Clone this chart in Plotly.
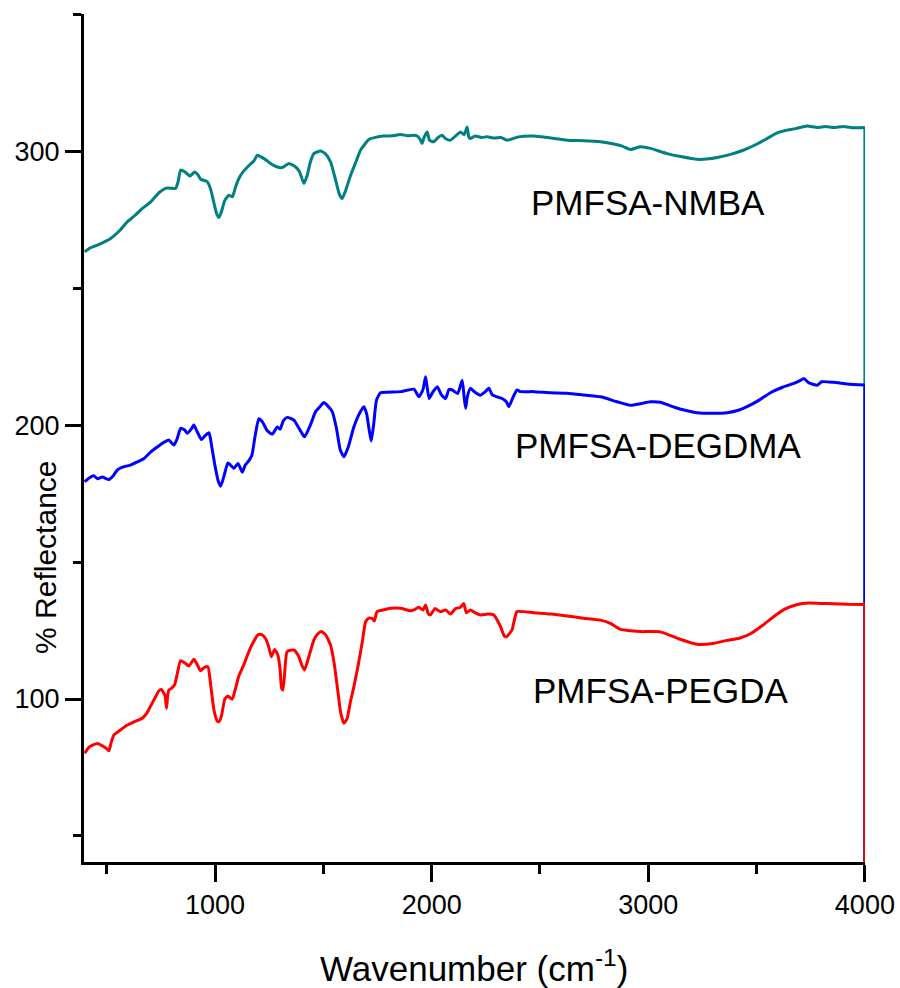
import plotly.graph_objects as go

# ---- data ----
nmba_x = [398, 420, 457, 480, 518, 560, 595, 630, 656, 703, 741, 775, 802, 818, 830, 841, 860, 884, 906, 920,
          933, 964, 980, 995, 1008, 1018, 1030, 1045, 1064, 1080, 1095, 1110, 1130, 1160, 1180, 1195, 1215, 1240,
          1256, 1287, 1310, 1341, 1372, 1390, 1410, 1425, 1440, 1456, 1487, 1510, 1533, 1555, 1575, 1587, 1600,
          1626, 1650, 1672, 1710, 1740, 1779, 1820, 1856, 1890, 1918, 1933, 1945, 1956, 1965, 1979, 1990, 2010,
          2030, 2048, 2065, 2087, 2110, 2133, 2150, 2164, 2172, 2179, 2200, 2230, 2256, 2290, 2320, 2348, 2400,
          2471, 2550, 2625, 2700, 2779, 2841, 2880, 2918, 2964, 3010, 3087, 3150, 3225, 3280, 3318, 3380, 3441,
          3500, 3549, 3590, 3625, 3680, 3733, 3780, 3820, 3856, 3900, 3950, 4000]
nmba_y = [263.2, 264.5, 265.7, 266.5, 268.1, 271, 274.2, 276.5, 278.5, 281.5, 284.8, 286.5, 286.4, 286.4, 289,
          293.1, 292.5, 290.9, 292.4, 291.5, 289.8, 288.8, 286, 281, 277, 275.8, 278, 282, 283.9, 283.3, 287, 290,
          292.5, 295, 296.5, 298.5, 297.8, 296.5, 295.5, 294.2, 294, 295.5, 294.2, 292.5, 288.2, 291, 296, 299.1,
          300, 299, 296.1, 290, 284, 282.7, 285, 291.2, 296, 300.4, 304.2, 305, 305.5, 305.6, 306.1, 305.6, 305.8,
          305.5, 304.5, 302.8, 305, 307, 304, 303.4, 305, 305.8, 304.5, 304, 305.5, 307, 306, 308.8, 305, 304.6,
          305.5, 305, 305.2, 304.8, 305, 304, 305.2, 305.5, 304.8, 304, 303.8, 303.4, 302.6, 301.8, 300.6, 301.6,
          301, 299.1, 298, 297, 297.2, 297.7, 298.8, 300.4, 302.5, 304.6, 306.5, 307.4, 308.2, 309.2, 308.6, 309,
          308.6, 309, 308.5, 308.6]

degdma_x = [398, 420, 440, 457, 480, 510, 530, 549, 580, 610, 640, 672, 703, 733, 760, 787, 810, 825, 841, 860,
            871, 890, 902, 915, 937, 955, 972, 985, 1000, 1015, 1026, 1040, 1059, 1070, 1087, 1106, 1126, 1140,
            1156, 1170, 1185, 1202, 1220, 1240, 1264, 1280, 1287, 1300, 1315, 1333, 1364, 1390, 1413, 1440, 1464,
            1485, 1502, 1520, 1541, 1560, 1578, 1595, 1615, 1641, 1665, 1687, 1700, 1712, 1721, 1732, 1745, 1764,
            1800, 1856, 1918, 1941, 1960, 1972, 1988, 2005, 2026, 2045, 2064, 2080, 2095, 2120, 2141, 2150, 2157,
            2165, 2179, 2200, 2225, 2245, 2264, 2280, 2302, 2325, 2345, 2356, 2375, 2394, 2410, 2471, 2550, 2625,
            2700, 2779, 2856, 2918, 2964, 3010, 3056, 3120, 3180, 3225, 3300, 3364, 3420, 3456, 3510, 3564, 3620,
            3672, 3700, 3718, 3740, 3780, 3800, 3856, 3920, 4000]
degdma_y = [179.3, 180.8, 181.5, 180.4, 181, 180.1, 181.5, 183.6, 184.8, 185.4, 186.5, 187.8, 190.2, 192, 193.5,
            194.5, 192.7, 195, 198.8, 198.2, 197, 198.5, 200, 198, 194.7, 196.2, 197.2, 192, 185, 179.5, 177.7, 181,
            186.2, 185.5, 184.2, 186, 182.8, 185.5, 187, 189, 196, 202.3, 201, 198, 196.7, 198.5, 199.3, 198.5, 201.5,
            202.8, 201.8, 198.5, 195.7, 200, 204.9, 206.8, 208.2, 207, 204.9, 199, 191, 188.4, 192, 199.4, 204, 206.7,
            204, 198, 194.2, 200, 209, 211.8, 212, 212.2, 213.1, 210.3, 213, 217.6, 209.7, 212, 214, 211, 209.7, 213,
            212.8, 211.5, 216.4, 210, 206.1, 210.5, 213.4, 212, 210.9, 212, 213.4, 211, 210.3, 209.7, 208.5, 206.7,
            210, 212.8, 212.2, 212.2, 211.8, 211.6, 211, 210.3, 208.5, 207.2, 207.8, 208.5, 208.3, 206.5, 205.2,
            204.5, 204.3, 204.5, 205.5, 206.7, 209, 211.8, 213.8, 215.2, 216.2, 217, 215.5, 214.5, 215.8, 215.6,
            215, 214.6]

pegda_x = [398, 418, 457, 487, 500, 510, 520, 533, 560, 595, 630, 664, 690, 703, 720, 741, 752, 764, 770, 776,
           781, 787, 800, 813, 825, 841, 860, 879, 902, 915, 933, 950, 967, 980, 995, 1010, 1018, 1030, 1045, 1059,
           1079, 1095, 1110, 1130, 1156, 1175, 1198, 1215, 1233, 1248, 1260, 1275, 1290, 1300, 1307, 1313, 1320,
           1333, 1364, 1387, 1400, 1413, 1435, 1456, 1475, 1490, 1510, 1533, 1550, 1565, 1580, 1595, 1610, 1625,
           1641, 1660, 1680, 1695, 1710, 1725, 1735, 1748, 1780, 1810, 1856, 1902, 1918, 1940, 1960, 1972, 1985,
           1995, 2015, 2041, 2065, 2087, 2110, 2133, 2148, 2160, 2179, 2200, 2225, 2260, 2287, 2305, 2318, 2335,
           2345, 2360, 2371, 2385, 2394, 2471, 2550, 2625, 2700, 2779, 2825, 2872, 2920, 2964, 3056, 3140, 3225,
           3300, 3364, 3420, 3472, 3530, 3580, 3630, 3689, 3740, 3795, 3856, 3920, 4000]
pegda_y = [80.2, 82.4, 83.8, 82.6, 81.8, 81.1, 84, 86.9, 88.5, 90.5, 91.8, 93, 95.5, 97.5, 100, 103, 103.5, 102.1,
           101, 96.6, 101, 103.3, 104, 105.1, 109, 114, 113.2, 112, 114.5, 113, 110.3, 111.5, 111.8, 105, 96, 92,
           91.7, 94, 100, 101.1, 99.9, 104, 108.5, 112, 117.3, 120.5, 123.4, 123.5, 122.1, 119, 115.4, 118.1, 116,
           111, 104, 103.3, 108, 117.3, 117.9, 115.4, 112.5, 110.6, 116, 121.5, 123.8, 124.6, 123.5, 119.7, 113, 104,
           95, 91.1, 93, 99, 104.5, 112, 121, 128.2, 129.5, 129.4, 128.5, 131.9, 132.6, 133.1, 133.1, 132.2, 132.5,
           133.5, 132.5, 134.3, 131, 130.7, 133, 131.9, 132.5, 131, 133, 133.5, 134.9, 131.5, 132.5, 131.5, 130.7,
           131, 130.7, 128.5, 126.4, 123, 122.7, 124, 125.2, 130, 131.9, 131.5, 131, 130.3, 129.5, 128.8, 127.6,
           125.4, 124.9, 124.6, 124.5, 122, 120, 120.3, 121.4, 122.2, 123.8, 127, 130.1, 132.8, 134.5, 135, 134.9,
           134.8, 134.6, 134.5]

# final drop of every spectrum at the high-wavenumber end
drop_floor = -100

series_names = ["PMFSA-NMBA", "PMFSA-DEGDMA", "PMFSA-PEGDA"]
series_colors = ["#008080", "#0000FF", "#FF0000"]
label_x = [3001, 3045, 3056]
label_y = [281.4, 192.4, 103]
x_ticks = [1000, 2000, 3000, 4000]
y_ticks = [100, 200, 300]

FONT = "Liberation Sans, Arial, sans-serif"

fig = go.Figure()
for xs, ys, name, col in zip([nmba_x, degdma_x, pegda_x], [nmba_y, degdma_y, pegda_y],
                             series_names, series_colors):
    fig.add_trace(go.Scatter(x=xs, y=ys, mode="lines", name=name,
                             line=dict(color=col, width=3, shape="spline", smoothing=0.5),
                             showlegend=False))
    fig.add_trace(go.Scatter(x=[xs[-1], xs[-1]], y=[ys[-1], drop_floor], mode="lines",
                             line=dict(color=col, width=3), showlegend=False, hoverinfo="skip"))

for name, lx, ly in zip(series_names, label_x, label_y):
    fig.add_annotation(x=lx, y=ly, xref="x", yref="y", text=name, showarrow=False,
                       font=dict(family=FONT, size=35, color="black"),
                       xanchor="center", yanchor="middle")

# axis titles
fig.add_annotation(x=2195, y=0, xref="x", yref="paper", yshift=-104,
                   text="Wavenumber (cm<sup>-1</sup>)", showarrow=False,
                   font=dict(family=FONT, size=35, color="black"),
                   xanchor="center", yanchor="middle")
fig.add_annotation(x=0, y=151.5, xref="paper", yref="y", xshift=-38,
                   text="% Reflectance", showarrow=False, textangle=-90,
                   font=dict(family=FONT, size=30, color="black"),
                   xanchor="center", yanchor="middle")

fig.update_layout(
    width=900, height=988,
    margin=dict(l=84, r=35, t=14, b=126, pad=0),
    paper_bgcolor="white", plot_bgcolor="white",
    font=dict(family=FONT, color="black"),
    xaxis=dict(range=[395, 4000.5], tickmode="array", tickvals=x_ticks, automargin=False,
               ticks="outside", ticklen=17, tickwidth=2.5, tickcolor="black",
               showline=True, linewidth=3, linecolor="black",
               showgrid=False, zeroline=False,
               tickfont=dict(family=FONT, size=27, color="black"),
               minor=dict(tickmode="linear", tick0=0, dtick=500, ticks="outside",
                          ticklen=9, tickwidth=2.5, tickcolor="black", showgrid=False)),
    yaxis=dict(range=[40.5, 350.05], tickmode="array", tickvals=y_ticks, automargin=False,
               ticks="outside", ticklen=16, tickwidth=2.5, tickcolor="black",
               showline=True, linewidth=3, linecolor="black",
               showgrid=False, zeroline=False,
               tickfont=dict(family=FONT, size=27, color="black"),
               minor=dict(tickmode="linear", tick0=0, dtick=50, ticks="outside",
                          ticklen=8, tickwidth=2.5, tickcolor="black", showgrid=False)),
)

fig.write_html("out.html")
